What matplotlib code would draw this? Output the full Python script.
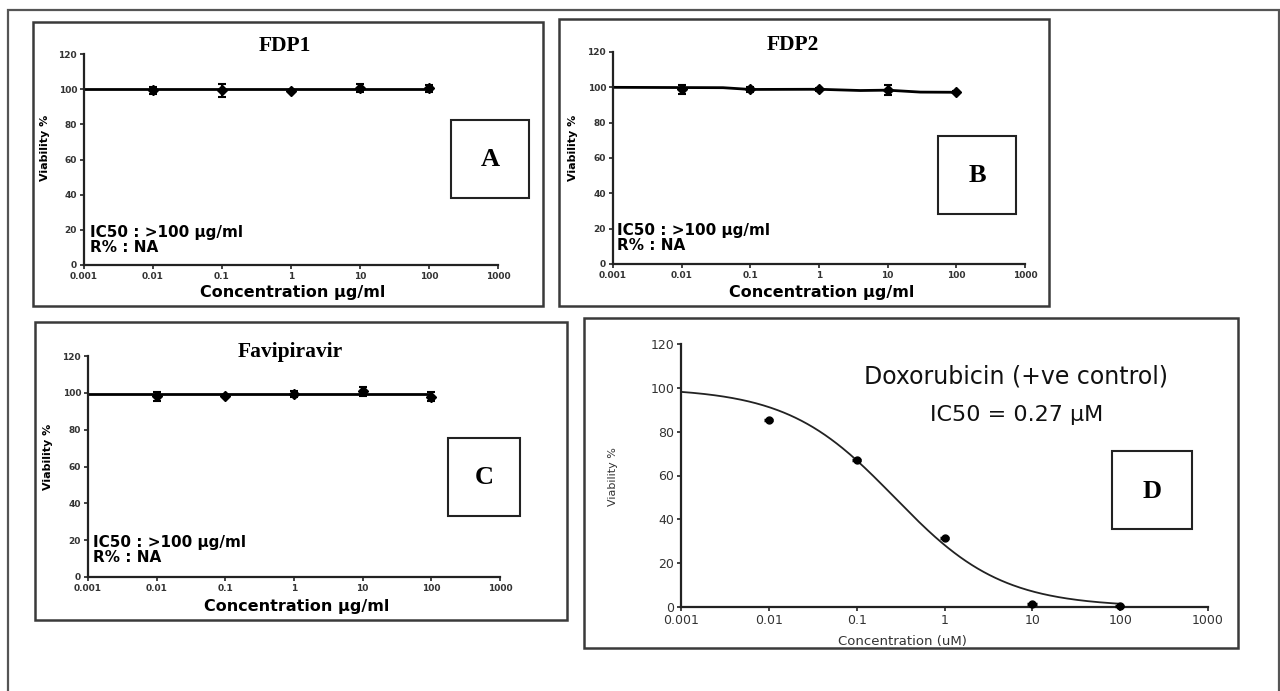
import numpy as np
import matplotlib
matplotlib.use("Agg")
import matplotlib.pyplot as plt
from matplotlib.patches import Rectangle

W, H = 1280, 691

# ---- data -------------------------------------------------------------
conc = [0.01, 0.1, 1, 10, 100]

fdp1_viab = [99.3, 99.3, 99.0, 100.6, 100.6]
fdp1_err = [2.0, 3.5, 0.5, 2.2, 2.0]
fdp1_line_x = [0.001, 100]
fdp1_line_y = [100, 100]

fdp2_viab = [98.8, 98.8, 98.9, 98.6, 97.2]
fdp2_err = [2.5, 1.5, 1.0, 3.0, 0.5]
fdp2_line_x = [0.001, 0.04, 0.1, 1, 4, 10, 30, 100]
fdp2_line_y = [100, 99.8, 98.8, 98.9, 98.2, 98.4, 97.3, 97.2]

fav_viab = [98.2, 98.5, 99.5, 100.8, 98.0]
fav_err = [2.5, 0.5, 1.5, 2.5, 2.5]
fav_line_x = [0.001, 100]
fav_line_y = [99.2, 99.2]

dox_viab = [85.5, 67.0, 31.5, 1.5, 0.5]
dox_ic50 = 0.27
dox_hill = 0.71
dox_top, dox_bottom = 100.0, 0.0

xticks = [0.001, 0.01, 0.1, 1, 10, 100, 1000]
xticklabels = ["0.001", "0.01", "0.1", "1", "10", "100", "1000"]
yticks = [0, 20, 40, 60, 80, 100, 120]

SANS = ["DejaVu Sans"]
SERIF = ["Liberation Serif", "DejaVu Serif"]

fig = plt.figure(figsize=(W / 100, H / 100), dpi=100)
fig.patch.set_facecolor("white")


def fx(x):
    return x / W


def fy(y):
    return 1 - y / H


def add_axes_px(x0, y0, x1, y1):
    return fig.add_axes([fx(x0), fy(y1), (x1 - x0) / W, (y1 - y0) / H])


def frame_px(x0, y0, x1, y1, lw=1.8, color="#3a3a3a"):
    fig.patches.append(Rectangle((fx(x0), fy(y1)), (x1 - x0) / W, (y1 - y0) / H,
                                 transform=fig.transFigure, fill=False,
                                 edgecolor=color, linewidth=lw, zorder=0))


def text_px(x, y, s, **kw):
    fig.text(fx(x), fy(y), s, **kw)


def style_axes(ax, tick_size, weight):
    ax.set_xscale("log")
    ax.set_xlim(0.001, 1000)
    ax.set_ylim(0, 120)
    ax.set_xticks(xticks)
    ax.set_xticklabels(xticklabels)
    ax.set_yticks(yticks)
    ax.minorticks_off()
    for s in ("top", "right"):
        ax.spines[s].set_visible(False)
    for s in ("left", "bottom"):
        ax.spines[s].set_linewidth(1.6)
        ax.spines[s].set_color("#222222")
    ax.tick_params(axis="both", length=3, width=1.2, color="#222222",
                   labelsize=tick_size, labelcolor="#333333", pad=2)
    for lab in ax.get_xticklabels() + ax.get_yticklabels():
        lab.set_fontfamily(SANS)
        lab.set_fontweight(weight)
    ax.patch.set_alpha(0)


# ---- outer frame -----------------------------------------------------
fig.patches.append(Rectangle((fx(8), -0.05), (1279 - 8) / W, fy(10) + 0.05,
                             transform=fig.transFigure, fill=False,
                             edgecolor="#555555", linewidth=1.6, zorder=0))


def flat_panel(box, axbox, title, title_xy, title_size, viab, err, line_x, line_y,
               note_xy, xlabel_xy, ylabel_xy, letter, letter_box):
    frame_px(*box)
    ax = add_axes_px(*axbox)
    style_axes(ax, 6.5, "bold")
    ax.plot(line_x, line_y, color="black", lw=2.0, zorder=2)
    ax.errorbar(conc, viab, yerr=err, fmt="D", color="black", ms=5,
                capsize=3, elinewidth=1.5, capthick=1.5, zorder=3)
    text_px(*title_xy, title, family=SERIF, fontweight="bold", fontsize=title_size,
            ha="center", va="center")
    text_px(note_xy[0], note_xy[1], "IC50 : >100 µg/ml", family=SANS,
            fontweight="bold", fontsize=11, ha="left", va="center")
    text_px(note_xy[0], note_xy[1] + 15, "R% : NA", family=SANS,
            fontweight="bold", fontsize=11, ha="left", va="center")
    text_px(*xlabel_xy, "Concentration µg/ml", family=SANS, fontweight="bold",
            fontsize=11.5, ha="center", va="center")
    text_px(*ylabel_xy, "Viability %", family=SANS, fontweight="bold",
            fontsize=8, ha="center", va="center", rotation=90)
    frame_px(*letter_box, lw=1.5, color="#222222")
    text_px((letter_box[0] + letter_box[2]) / 2, (letter_box[1] + letter_box[3]) / 2 + 1,
            letter, family=SERIF, fontweight="bold", fontsize=19,
            ha="center", va="center")


flat_panel((33, 22, 543, 306), (84, 54, 498, 265), "FDP1", (285, 46), 15.5,
           fdp1_viab, fdp1_err, fdp1_line_x, fdp1_line_y,
           (90, 232), (293, 293), (45, 148), "A", (451, 120, 529, 198))

flat_panel((559, 19, 1049, 306), (613, 52, 1025, 264), "FDP2", (793, 45), 15.5,
           fdp2_viab, fdp2_err, fdp2_line_x, fdp2_line_y,
           (617, 231), (822, 293), (573, 148), "B", (938, 136, 1016, 214))

flat_panel((35, 322, 567, 620), (88, 356, 500, 577), "Favipiravir", (290, 352), 15.5,
           fav_viab, fav_err, fav_line_x, fav_line_y,
           (93, 542), (297, 606), (48, 457), "C", (448, 438, 520, 516))

# ---- doxorubicin dose-response ---------------------------------------
frame_px(584, 318, 1238, 648)
axd = add_axes_px(681, 344, 1208, 607)
style_axes(axd, 9, "normal")
xs = np.logspace(-3, 2, 300)
fit = dox_bottom + (dox_top - dox_bottom) / (1 + (xs / dox_ic50) ** dox_hill)
axd.plot(xs, fit, color="#222222", lw=1.3, zorder=2)
axd.errorbar(conc, dox_viab, xerr=[[c * 0.12 for c in conc], [c * 0.12 for c in conc]],
             fmt="o", color="black", ms=5, elinewidth=2.5, capsize=0, zorder=3,
             clip_on=False)
text_px(1016, 377, "Doxorubicin (+ve control)", family=SANS, fontsize=17,
        ha="center", va="center", color="#111111")
text_px(1017, 415, "IC50 = 0.27 µM", family=SANS, fontsize=16,
        ha="center", va="center", color="#111111")
text_px(902, 642, "Concentration (uM)", family=SANS, fontsize=9.5,
        ha="center", va="center", color="#333333")
text_px(613, 477, "Viability %", family=SANS, fontsize=8,
        ha="center", va="center", rotation=90, color="#333333")
frame_px(1112, 451, 1192, 529, lw=1.5, color="#222222")
text_px(1152, 491, "D", family=SERIF, fontweight="bold", fontsize=19,
        ha="center", va="center")

fig.savefig("out.png", dpi=100, facecolor="white")
